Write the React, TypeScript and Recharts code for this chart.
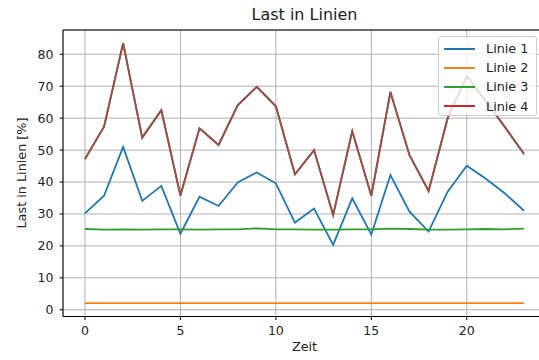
import {
  LineChart,
  Line,
  XAxis,
  YAxis,
  CartesianGrid,
  Legend,
  ReferenceLine,
} from 'recharts';

const zeit = [0, 1, 2, 3, 4, 5, 6, 7, 8, 9, 10, 11, 12, 13, 14, 15, 16, 17, 18, 19, 20, 21, 22, 23];

const linie1 = [30.2, 35.7, 51.0, 34.1, 38.8, 23.8, 35.4, 32.5, 39.9, 43.0, 39.6, 27.3, 31.7, 20.3, 34.9, 23.6, 42.2, 30.7, 24.5, 37.0, 45.1, 41.0, 36.4, 31.0];
const linie2 = [2.1, 2.1, 2.1, 2.1, 2.1, 2.1, 2.1, 2.1, 2.1, 2.1, 2.1, 2.1, 2.1, 2.1, 2.1, 2.1, 2.1, 2.1, 2.1, 2.1, 2.1, 2.1, 2.1, 2.1];
const linie3 = [25.3, 25.1, 25.2, 25.1, 25.2, 25.2, 25.1, 25.2, 25.2, 25.5, 25.2, 25.2, 25.1, 25.1, 25.2, 25.2, 25.4, 25.3, 25.1, 25.1, 25.2, 25.3, 25.2, 25.4];
const linie4 = [47.2, 57.3, 83.5, 53.9, 62.5, 35.8, 56.8, 51.6, 64.0, 69.8, 63.7, 42.4, 50.0, 29.7, 55.9, 35.7, 68.2, 48.4, 37.2, 60.0, 73.2, 65.3, 57.2, 48.8];

const yTicks = [0, 10, 20, 30, 40, 50, 60, 70, 80];
const xTicks = [0, 5, 10, 15, 20];

const series = [
  { key: 'l1', name: 'Linie 1', color: '#1f77b4' },
  { key: 'l2', name: 'Linie 2', color: '#ff7f0e' },
  { key: 'l3', name: 'Linie 3', color: '#2ca02c' },
  { key: 'l4', name: 'Linie 4', color: '#d62728' },
];

const data = zeit.map((t, i) => ({
  t,
  l1: linie1[i],
  l2: linie2[i],
  l3: linie3[i],
  l4: linie4[i],
}));

const font = '"DejaVu Sans", sans-serif';
const tickStyle = { fontSize: 12.5, fill: '#222', fontFamily: font };

function LegendBox() {
  return (
    <div
      style={{
        background: 'rgba(255,255,255,0.8)',
        border: '1px solid #cccccc',
        borderRadius: 3,
        width: 99,
        height: 80,
        boxSizing: 'border-box',
        padding: '2px 0 0 5px',
        fontFamily: font,
        fontSize: 12.8,
        color: '#222',
      }}
    >
      {series.map((s) => (
        <div key={s.key} style={{ display: 'flex', alignItems: 'center', height: 19.2 }}>
          <span style={{ width: 31, height: 2, background: s.color, marginRight: 11 }} />
          <span>{s.name}</span>
        </div>
      ))}
    </div>
  );
}

export default function App() {
  return (
    <div
      style={{
        position: 'absolute',
        left: 0,
        top: 0,
        width: 539,
        height: 360,
        overflow: 'hidden',
        background: '#fff',
      }}
    >
      <LineChart
        width={560}
        height={360}
        data={data}
        margin={{ top: 30, right: 14, bottom: 0, left: 0 }}
      >
        <CartesianGrid stroke="#b0b0b0" strokeWidth={1} />
        <XAxis
          dataKey="t"
          type="number"
          domain={[-1.15, 24.15]}
          ticks={xTicks}
          allowDataOverflow
          height={43.5}
          stroke="#000"
          tickSize={3.5}
          tickMargin={6}
          tick={tickStyle}
        />
        <YAxis
          type="number"
          domain={[-2.1, 87.6]}
          ticks={yTicks}
          allowDataOverflow
          width={63}
          stroke="#000"
          tickSize={3.5}
          tickMargin={6}
          tick={tickStyle}
        />
        <ReferenceLine y={87.6} stroke="#000" strokeWidth={1} />
        {series.map((s) => (
          <Line
            key={s.key}
            dataKey={s.key}
            name={s.name}
            stroke={s.color}
            strokeWidth={1.8}
            dot={false}
            type="linear"
            isAnimationActive={false}
          />
        ))}
        {/* brown copy of Linie 4 drawn on top, not in the legend */}
        <Line
          dataKey="l4"
          name="Linie 4 (Kopie)"
          stroke="#8c564b"
          strokeWidth={1.8}
          dot={false}
          type="linear"
          legendType="none"
          isAnimationActive={false}
        />
        <Legend
          layout="horizontal"
          verticalAlign="middle"
          wrapperStyle={{ position: 'absolute', left: 438, top: 36, width: 100 }}
          content={() => <LegendBox />}
        />
      </LineChart>
      <div
        style={{
          position: 'absolute',
          left: 0,
          width: 609,
          top: 5,
          textAlign: 'center',
          fontFamily: font,
          fontSize: 16,
          color: '#222',
        }}
      >
        Last in Linien
      </div>
      <div
        style={{
          position: 'absolute',
          left: 0,
          width: 609,
          top: 339,
          textAlign: 'center',
          fontFamily: font,
          fontSize: 12.8,
          color: '#222',
        }}
      >
        Zeit
      </div>
      <div
        style={{
          position: 'absolute',
          left: 21,
          top: 173,
          transform: 'translate(-50%, -50%) rotate(-90deg)',
          whiteSpace: 'nowrap',
          fontFamily: font,
          fontSize: 12.8,
          color: '#222',
        }}
      >
        Last in Linien [%]
      </div>
    </div>
  );
}
